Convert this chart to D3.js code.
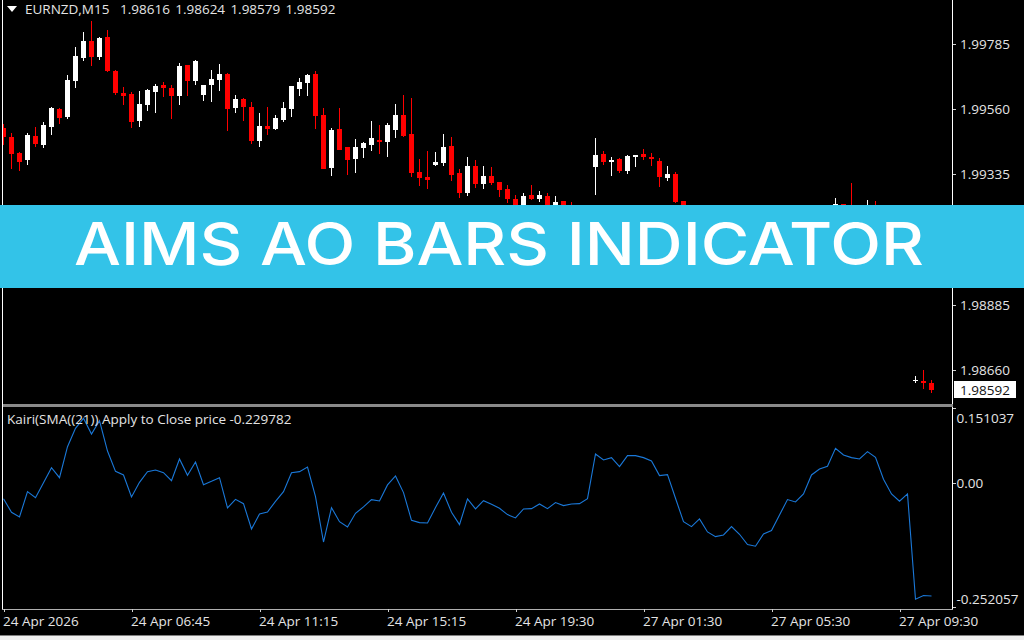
<!DOCTYPE html>
<html><head><meta charset="utf-8">
<script src="https://cdn.jsdelivr.net/npm/d3@7"></script>
<style>html,body{margin:0;padding:0;background:#000;overflow:hidden}svg{display:block}</style>
</head><body><div id="chart"></div>
<script>
const title = "AIMS AO BARS INDICATOR";
const header = "EURNZD,M15  1.98616 1.98624 1.98579 1.98592";
const indicatorLabel = "Kairi(SMA((21)) Apply to Close price -0.229782";
const lastPrice = 1.98592;
const priceTicks = [1.99785, 1.9956, 1.99335, 1.98885, 1.9866];
const kairiTicks = [0.151037, 0, -0.252057];
const kairiTickText = ["0.151037", "0.00", "-0.252057"];
const timeTickBars = [0, 16, 32, 48, 64, 80, 96, 112];
const timeTickLabels = ["24 Apr 2026","24 Apr 06:45","24 Apr 11:15","24 Apr 15:15","24 Apr 19:30","27 Apr 01:30","27 Apr 05:30","27 Apr 09:30"];

// Bars visible above / below the banner; prices in points (1e-5)
const barIndex = [0,1,2,3,4,5,6,7,8,9,10,11,12,13,14,15,16,17,18,19,20,21,22,23,24,25,26,27,28,29,30,31,32,33,34,35,36,37,38,39,40,41,42,43,44,45,46,47,48,49,50,51,52,53,54,55,56,57,58,59,60,61,62,63,64,65,66,67,68,69,70,71,74,75,76,77,78,79,80,81,82,83,84,85,104,105,106,108,109,114,115,116];
const highs = [199509,199477,199414,199477,199498,199516,199566,199563,199677,199773,199825,199865,199808,199832,199694,199635,199618,199622,199629,199646,199653,199642,199718,199711,199729,199642,199694,199715,199684,199608,199598,199584,199546,199566,199539,199584,199639,199667,199680,199691,199563,199494,199563,199428,199456,199446,199518,199504,199511,199577,199608,199598,199387,199415,199411,199473,199463,199353,199394,199384,199363,199360,199308,199297,199263,199270,199297,199277,199270,199259,199242,199239,199460,199415,199394,199391,199401,199401,199422,199408,199391,199363,199342,199242,199253,199234,199304,199246,199242,198638,198659,198624];
const opens = [199494,199465,199410,199383,199469,199435,199498,199560,199532,199656,199736,199796,199739,199808,199691,199615,199611,199518,199573,199618,199642,199632,199604,199711,199656,199608,199642,199660,199680,199563,199594,199566,199449,199501,199491,199522,199560,199629,199649,199680,199539,199356,199491,199428,199387,199425,199435,199453,199446,199487,199539,199473,199342,199325,199366,199373,199432,199339,199270,199363,199301,199328,199308,199284,199249,199200,199263,199249,199259,199200,199242,199200,199360,199404,199377,199387,199346,199396,199404,199394,199380,199322,199335,199242,199200,199234,199210,199190,199215,198621,198623,198616];
const closes = [199463,199404,199377,199470,199439,199504,199563,199529,199660,199742,199796,199739,199805,199691,199615,199604,199515,199577,199625,199639,199632,199604,199708,199656,199725,199642,199663,199680,199560,199594,199566,199449,199501,199491,199529,199563,199639,199653,199677,199536,199353,199487,199419,199384,199428,199442,199460,199446,199504,199539,199466,199339,199322,199315,199377,199428,199332,199270,199363,199301,199328,199304,199280,199249,199212,199259,199249,199263,199200,199239,199200,199180,199401,199377,199384,199346,199397,199401,199394,199387,199325,199335,199239,199190,199232,199190,199180,199215,199190,198626,198616,198592];
const lows = [199435,199353,199346,199369,199429,199425,199470,199508,199525,199632,199725,199708,199729,199687,199608,199573,199494,199498,199553,199546,199601,199525,199573,199604,199642,199587,199584,199622,199484,199546,199518,199439,199429,199470,199487,199515,199532,199604,199604,199491,199353,199329,199419,199334,199341,199391,199415,199404,199394,199460,199463,199325,199294,199284,199363,199363,199311,199253,199259,199287,199284,199297,199256,199235,199201,199190,199246,199239,199190,199190,199190,199170,199263,199366,199328,199339,199335,199360,199384,199363,199290,199311,199235,199180,199180,199180,199170,199180,199180,198614,198594,198579];

const kairi = [-0.0326,-0.0603,-0.0697,-0.0184,-0.0306,-0.0002,0.0302,0.0099,0.0727,0.1098,0.1301,0.0983,0.1253,0.0639,0.0227,0.0153,-0.0292,0.0005,0.0221,0.0254,0.02,0.0038,0.0477,0.0146,0.0416,-0.0043,0.0025,0.0099,-0.0515,-0.034,-0.0427,-0.094,-0.0637,-0.0596,-0.038,-0.0184,0.02,0.0221,0.0315,-0.0286,-0.1204,-0.0508,-0.0792,-0.0899,-0.0622,-0.0494,-0.0345,-0.0372,-0.0048,0.0134,-0.0204,-0.0764,-0.0811,-0.0818,-0.0507,-0.021,-0.0602,-0.0852,-0.0332,-0.0534,-0.0366,-0.044,-0.0521,-0.0649,-0.0717,-0.0534,-0.0528,-0.0433,-0.0528,-0.0406,-0.0467,-0.0433,-0.0426,-0.0325,0.0579,0.0458,0.0505,0.0323,0.0546,0.0546,0.0505,0.0438,0.0141,0.0161,-0.0318,-0.0791,-0.0892,-0.0737,-0.1,-0.1095,-0.1061,-0.0892,-0.1047,-0.1257,-0.129,-0.1041,-0.0973,-0.0656,-0.0345,-0.0393,-0.0231,0.0154,0.0276,0.033,0.0694,0.0559,0.0505,0.0478,0.0627,0.0512,0.0066,-0.0231,-0.0379,-0.0231,-0.2364,-0.2289,-0.229782];

const W = 1024, H = 640, uiFont = "'Open Sans','Noto Sans',sans-serif";
const svg = d3.select("#chart").append("svg").attr("width", W).attr("height", H).attr("viewBox", `0 0 ${W} ${H}`);
svg.append("rect").attr("width", W).attr("height", H).attr("fill", "#000");

const x = d3.scaleLinear().domain([0, 116]).range([3.5, 931.5]);
const yP = d3.scaleLinear().domain([1.9866, 1.99785]).range([370, 44]);
const yK = d3.scaleLinear().domain([-0.252057, 0.151037]).range([607, 408]);

svg.append("clipPath").attr("id", "plot").append("rect").attr("x", 3).attr("y", 0).attr("width", 949).attr("height", 608);
const plot = svg.append("g").attr("clip-path", "url(#plot)");

const bars = barIndex.map((b, k) => ({b, h: highs[k]/1e5, o: opens[k]/1e5, c: closes[k]/1e5, l: lows[k]/1e5}));
const col = d => d.c >= d.o ? "#fff" : "#f00";
const candle = plot.selectAll("g.c").data(bars).join("g").attr("class", "c").attr("shape-rendering", "crispEdges");
candle.append("rect")
  .attr("x", d => x(d.b) - 0.5).attr("width", 1)
  .attr("y", d => Math.round(yP(d.h)))
  .attr("height", d => Math.max(1, Math.round(yP(d.l)) - Math.round(yP(d.h))))
  .attr("fill", col);
candle.append("rect")
  .attr("x", d => x(d.b) - 2.5).attr("width", 5)
  .attr("y", d => Math.round(yP(Math.max(d.o, d.c))))
  .attr("height", d => Math.max(1, Math.round(yP(Math.min(d.o, d.c))) - Math.round(yP(Math.max(d.o, d.c)))))
  .attr("fill", col);

plot.append("path").datum(kairi)
  .attr("d", d3.line().x((d, i) => x(i)).y(d => yK(d)))
  .attr("fill", "none").attr("stroke", "#1a78d8").attr("stroke-width", 1.1);

// frame
const line = (x1, y1, x2, y2, c, w) => svg.append("line").attr("x1", x1).attr("y1", y1).attr("x2", x2).attr("y2", y2).attr("stroke", c).attr("stroke-width", w).attr("shape-rendering", "crispEdges");
line(2.5, 0, 2.5, 609, "#fff", 1);
line(952.5, 0, 952.5, 609, "#fff", 1);
line(3, 405.5, 953, 405.5, "#8a8a8a", 3);
line(2, 609, 953, 609, "#b0b0b0", 1);
svg.append("rect").attr("x", 0).attr("y", 635).attr("width", W).attr("height", 1).attr("fill", "#808080");
svg.append("rect").attr("x", 0).attr("y", 636).attr("width", W).attr("height", 4).attr("fill", "#f0f0f0");

// axes
function styleAxis(g) {
  g.select(".domain").remove();
  g.selectAll("line").attr("stroke", "#d0d0d0").attr("shape-rendering", "crispEdges");
  g.selectAll("text").attr("fill", "#e4e4e4").attr("font-family", uiFont).attr("font-size", 13.5);
}
svg.append("g").attr("transform", "translate(953,0)")
  .call(d3.axisRight(yP).tickValues(priceTicks).tickSize(3).tickPadding(4).tickFormat(d3.format(".5f")))
  .call(styleAxis);
const kAxis = svg.append("g").attr("transform", "translate(953,0)")
  .call(d3.axisRight(yK).tickValues(kairiTicks).tickSize(3).tickPadding(0).tickFormat((d, i) => kairiTickText[i]))
  .call(styleAxis);
kAxis.selectAll("text").attr("x", 3.5).attr("dy", (d, i) => [10, 0.8, -8][i] + 4.5);
const tAxis = svg.append("g").attr("transform", "translate(0,609)")
  .call(d3.axisBottom(x).tickValues(timeTickBars).tickSize(3).tickPadding(3).tickFormat((d, i) => timeTickLabels[i]))
  .call(styleAxis);
tAxis.selectAll("text").attr("text-anchor", "start").attr("dx", -1).attr("dy", "0.85em");

// current price tag
svg.append("rect").attr("x", 954).attr("y", 381).attr("width", 62).attr("height", 17).attr("fill", "#fff");
svg.append("text").attr("x", 960).attr("y", 394.5).attr("fill", "#111").attr("font-family", uiFont).attr("font-size", 13.5).text(lastPrice.toFixed(5));

// header
svg.append("path").attr("d", d3.line()([[7, 6], [17, 6], [12, 12]])).attr("fill", "#fff");
svg.append("text").attr("x", 25).attr("y", 14).attr("fill", "#e4e4e4").attr("font-family", uiFont).attr("font-size", 13.5).attr("word-spacing", 1.8).style("white-space", "pre").text(header);
svg.append("text").attr("x", 7).attr("y", 424).attr("fill", "#e4e4e4").attr("font-family", uiFont).attr("font-size", 13.5).text(indicatorLabel);

// banner
svg.append("rect").attr("x", 0).attr("y", 205).attr("width", W).attr("height", 83).attr("fill", "#33c3e8");
svg.append("text").attr("x", 74).attr("y", 265).attr("fill", "#fff")
  .attr("font-family", "Inter,'Open Sans',sans-serif").attr("font-weight", 500).attr("font-size", 59)
  .attr("textLength", 850).attr("lengthAdjust", "spacingAndGlyphs").text(title);
</script></body></html>
